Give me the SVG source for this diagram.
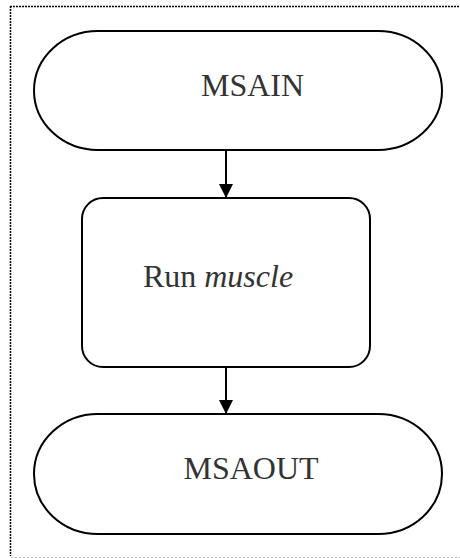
<svg xmlns="http://www.w3.org/2000/svg" width="460" height="558" viewBox="0 0 460 558">
  <style>
    .shape { fill: #ffffff; stroke: #000000; stroke-width: 2; }
    .edge { stroke: #000000; stroke-width: 2; fill: none; }
    .label { font-family: "Liberation Serif", "Times New Roman", serif; font-size: 32px; fill: #333333; text-anchor: middle; }
  </style>
  <defs>
    <marker id="arrow" markerWidth="14" markerHeight="16" refX="14" refY="7" orient="auto" markerUnits="userSpaceOnUse">
      <path d="M0,0 L14,7 L0,14 Z" fill="#000000"/>
    </marker>
  </defs>

  <!-- frame -->
  <g id="frame">
    <line x1="10" y1="6.5" x2="460" y2="6.5" stroke="#000000" stroke-width="1.5" stroke-dasharray="2,1"/>
    <line x1="10.5" y1="6" x2="10.5" y2="556" stroke="#000000" stroke-width="1.5" stroke-dasharray="2,1"/>
    <line x1="11" y1="557.5" x2="460" y2="557.5" stroke="#bbbbbb" stroke-width="1" stroke-dasharray="2,2"/>
  </g>

  <!-- connectors -->
  <g id="connectors">
    <line class="edge" x1="226" y1="150" x2="226" y2="198" marker-end="url(#arrow)"/>
    <line class="edge" x1="226" y1="367" x2="226" y2="414" marker-end="url(#arrow)"/>
  </g>

  <g id="msain">
    <rect class="shape" x="34" y="31" width="408" height="119" rx="64" ry="59.5"/>
    <text class="label" x="252.5" y="96">MSAIN</text>
  </g>

  <g id="run-muscle">
    <rect class="shape" x="82" y="198" width="288" height="169" rx="21" ry="21"/>
    <text class="label" x="218" y="287">Run <tspan font-style="italic">muscle</tspan></text>
  </g>

  <g id="msaout">
    <rect class="shape" x="34" y="414" width="408" height="120" rx="64" ry="60"/>
    <text class="label" x="251" y="479">MSAOUT</text>
  </g>
</svg>
